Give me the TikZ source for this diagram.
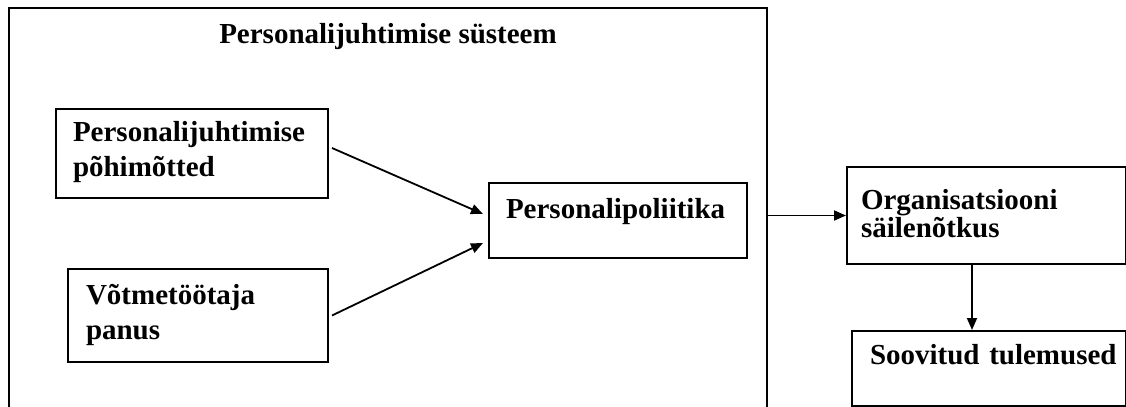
\documentclass[tikz,border=0pt]{standalone}
\usepackage{fontspec}
\setmainfont{Liberation Serif}
\usetikzlibrary{arrows.meta}
\tikzset{
    frame-box/.style = {draw, line width=1pt, rectangle, anchor=north west, inner sep=0pt},
    text-box/.style = {draw, line width=1pt, rectangle, anchor=north west, align=left, inner ysep=0pt, font=\bfseries\fontsize{14.5}{17.5}\selectfont},
    frame-title/.style = {font=\bfseries\fontsize{14.5}{17.5}\selectfont, anchor=base},
    flow/.style = {-{Triangle[length=6pt, width=5pt]}, line width=0.9pt},
}

\begin{document}
\begin{tikzpicture}[x=0.5pt, y=-0.5pt]
\useasboundingbox (0,0) rectangle (1126,407);
\clip (0,0) rectangle (1126,407);
% outer system box, open at the bottom
\node[frame-box, minimum width=379pt, minimum height=215pt] (frame) at (8,7) {};
\node[frame-title, yshift=-18pt] (title) at (frame.north) {Personalijuhtimise süsteem};

\node[text-box, inner xsep=8.5pt, text width=119pt, text height=16pt, text depth=28.5pt] (pohi) at (55,108) {Personalijuhtimise\\põhimõtted};
\node[text-box, inner xsep=9pt, text width=112pt, text height=17.5pt, text depth=29pt] (panus) at (67,268) {Võtmetöötaja\\panus};
\node[text-box, inner xsep=8.5pt, text width=112pt, text height=17.5pt, text depth=20pt] (pol) at (488,182) {Personalipoliitika};
\node[text-box, inner xsep=7pt, text width=125.5pt, text height=21pt, text depth=27.5pt, font=\bfseries\fontsize{14.5}{14}\selectfont] (sail) at (846,166) {Organisatsiooni\\säilenõtkus};
\node[text-box, inner xsep=9pt, text width=119pt, text height=16.5pt, text depth=21pt] (tul) at (851,330) {\mbox{Soovitud tulemused}};

\draw[flow] ([xshift=1.5pt, yshift=2.75pt]pohi.east) -- ([xshift=-2.5pt, yshift=3.25pt]pol.west);
\draw[flow] ([xshift=1.5pt]panus.east) -- ([xshift=-2.5pt, yshift=-11.25pt]pol.west);
\draw[flow] (frame.east |- sail.west) -- (sail.west);
\draw[flow] ([xshift=-7.25pt]sail.south) -- ([xshift=-7.25pt]sail.south |- tul.north);
\end{tikzpicture}
\end{document}
